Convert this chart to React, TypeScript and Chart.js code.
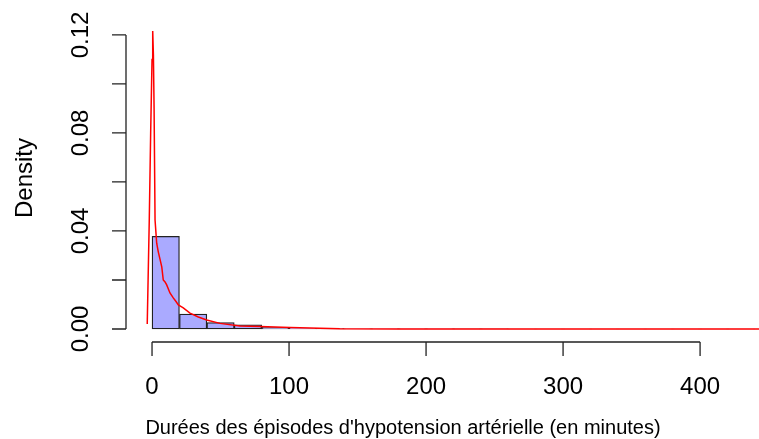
import React, { useEffect, useRef } from "react";
import { Chart, registerables } from "chart.js";

Chart.register(...registerables);

// Histogram: bin breaks (every 20 minutes) and density heights
const binStarts = [0, 20, 40, 60, 80, 100, 120, 140, 160, 180, 200, 220, 240, 260, 280, 300, 320, 340, 360, 380, 400, 420];
const binDensity = [0.0378, 0.0061, 0.0026, 0.00175, 0.0007, 0.0003, 0.0002, 0.00012, 0.0001, 0.00006, 0.00005, 0.00004, 0.00003, 0.00002, 0.00002, 0.00001, 0.00001, 0.00001, 0.00001, 0.00001, 0.00001, 0.00001];
const binWidth = 20;

// Kernel density curve
const densX = [-3.5, -2, -1, 0, 0.5, 1, 1.5, 2.2, 3.4, 4.6, 5.8, 7.1, 8.2, 9.5, 10.7, 13.1, 15.5, 17.5, 19.2, 22.8, 27.7, 33.8, 39.9, 49.6, 64.2, 78.8, 100.7, 137, 180, 250, 350, 445];
const densY = [0.002, 0.045, 0.08, 0.11, 0.1216, 0.112, 0.09, 0.0445, 0.035, 0.0314, 0.0285, 0.0254, 0.02, 0.0192, 0.018, 0.0147, 0.0127, 0.0112, 0.0098, 0.0086, 0.0065, 0.0049, 0.0037, 0.0023, 0.0012, 0.001, 0.0006, 0.0001, 0.00004, 0.00002, 0.00001, 0.00001];

// Axes
const xTicks = [0, 100, 200, 300, 400];
const xTickLabels = ["0", "100", "200", "300", "400"];
const yTicks = [0, 0.02, 0.04, 0.06, 0.08, 0.1, 0.12];
const yTickLabels = ["0.00", "", "0.04", "", "0.08", "", "0.12"];
const xTitle = "Durées des épisodes d'hypotension artérielle (en minutes)";
const yTitle = "Density";

const FONT = "'Liberation Sans', Arial, Helvetica, sans-serif";

const rAxesPlugin = {
  id: "rAxes",
  afterDraw(chart: any) {
    const ctx = chart.ctx;
    const xs = chart.scales.x;
    const ys = chart.scales.y;
    const area = chart.chartArea;
    ctx.save();
    ctx.strokeStyle = "#222";
    ctx.lineWidth = 1.3;
    ctx.fillStyle = "#000";

    // x axis
    const axY = area.bottom;
    const tickLen = 14;
    ctx.beginPath();
    ctx.moveTo(xs.getPixelForValue(xTicks[0]), axY);
    ctx.lineTo(xs.getPixelForValue(xTicks[xTicks.length - 1]), axY);
    xTicks.forEach((t) => {
      const px = xs.getPixelForValue(t);
      ctx.moveTo(px, axY);
      ctx.lineTo(px, axY + tickLen);
    });
    ctx.stroke();
    ctx.font = `24px ${FONT}`;
    ctx.textAlign = "center";
    ctx.textBaseline = "middle";
    xTicks.forEach((t, i) => {
      ctx.fillText(xTickLabels[i], xs.getPixelForValue(t), 387);
    });

    // y axis
    const axX = area.left;
    ctx.beginPath();
    ctx.moveTo(axX, ys.getPixelForValue(yTicks[0]));
    ctx.lineTo(axX, ys.getPixelForValue(yTicks[yTicks.length - 1]));
    yTicks.forEach((t) => {
      const py = ys.getPixelForValue(t);
      ctx.moveTo(axX, py);
      ctx.lineTo(axX - tickLen, py);
    });
    ctx.stroke();
    yTicks.forEach((t, i) => {
      if (!yTickLabels[i]) return;
      ctx.save();
      ctx.translate(81, ys.getPixelForValue(t));
      ctx.rotate(-Math.PI / 2);
      ctx.fillText(yTickLabels[i], 0, 0);
      ctx.restore();
    });

    // titles
    ctx.font = `20px ${FONT}`;
    ctx.fillText(xTitle, 403, 428);
    ctx.save();
    ctx.font = `24px ${FONT}`;
    ctx.translate(25, 178);
    ctx.rotate(-Math.PI / 2);
    ctx.fillText(yTitle, 0, 0);
    ctx.restore();
    ctx.restore();
  },
};

export default function App() {
  const ref = useRef<HTMLCanvasElement | null>(null);
  useEffect(() => {
    if (!ref.current) return;
    const chart = new Chart(ref.current, {
      type: "bar",
      data: {
        datasets: [
          {
            type: "line",
            data: densX.map((x, i) => ({ x, y: densY[i] })),
            borderColor: "#ff0000",
            borderWidth: 1.5,
            pointRadius: 0,
            tension: 0,
            order: 0,
          } as any,
          {
            type: "bar",
            data: binStarts.map((s, i) => ({ x: s + binWidth / 2, y: binDensity[i] })),
            backgroundColor: "#aaaaff",
            borderColor: "#222",
            borderWidth: 1.3,
            borderSkipped: false,
            barPercentage: 1,
            categoryPercentage: 1,
            order: 1,
          } as any,
        ],
      },
      options: {
        responsive: false,
        animation: false,
        devicePixelRatio: 1,
        layout: { padding: { left: 126, top: 17, right: 0, bottom: 97 } },
        plugins: { legend: { display: false }, tooltip: { enabled: false } },
        scales: {
          x: { type: "linear", min: -19, max: 443, display: false, offset: false },
          y: { type: "linear", min: -0.0053, max: 0.1273, display: false },
        },
      },
      plugins: [rAxesPlugin],
    });
    return () => chart.destroy();
  }, []);
  return (
    <div style={{ position: "absolute", left: 0, top: 0, width: 759, height: 439, background: "#fff" }}>
      <canvas ref={ref} width={759} height={439} />
    </div>
  );
}
